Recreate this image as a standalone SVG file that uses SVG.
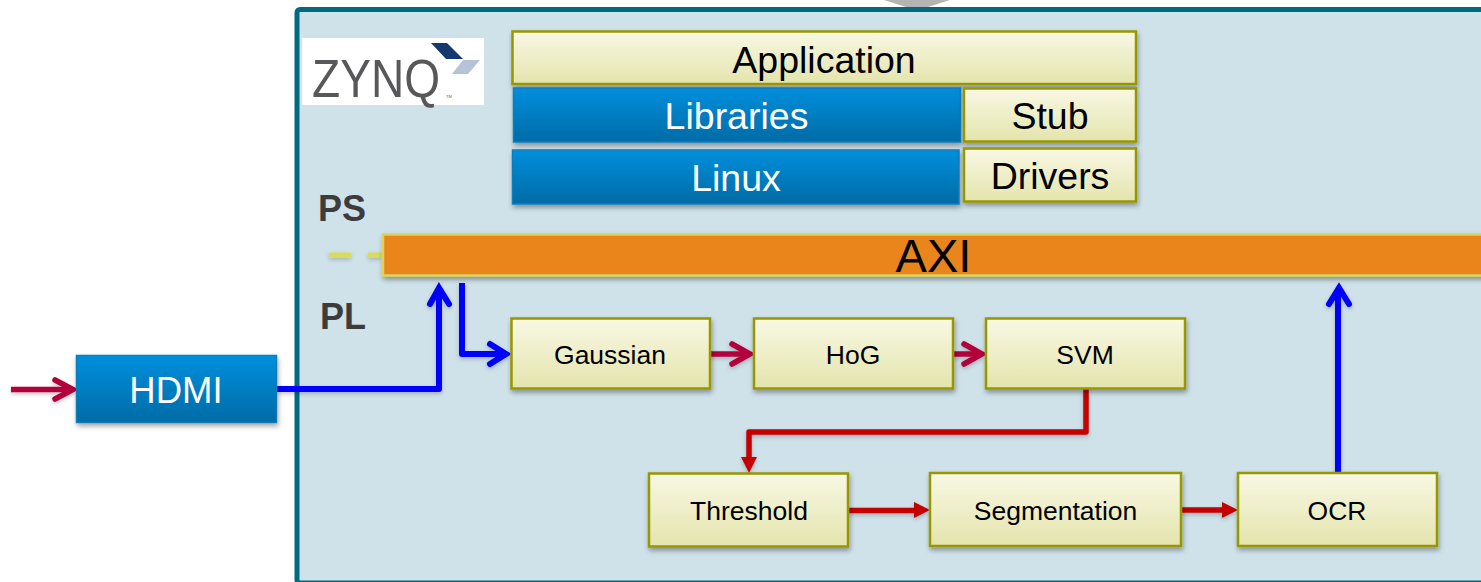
<svg xmlns="http://www.w3.org/2000/svg" width="1481" height="582" viewBox="0 0 1481 582">
<style>
text{font-family:"Liberation Sans",Arial,sans-serif;text-anchor:middle}
.y{fill:url(#gy);stroke:#979700;stroke-width:2.5}
.b{fill:url(#gb);stroke:#0b7dbd;stroke-width:1.5}
.sh{filter:url(#ds)}
.k{fill:#000}
.w{fill:#fff}
.lab{fill:#3c3c3c;font-weight:bold;font-size:36px}
.c{fill:none;stroke-linejoin:round;stroke-linecap:butt}
.blue{stroke:#0000ff;stroke-width:6}
.crim{stroke:#b3063c;stroke-width:5.5}
.red{stroke:#c40000;stroke-width:5.5}
.open{fill:none;stroke-linecap:round;stroke-linejoin:miter}
</style>
<defs>
<linearGradient id="gy" x1="0" y1="0" x2="0" y2="1"><stop offset="0" stop-color="#f8f8e4"/><stop offset="1" stop-color="#e4e4ad"/></linearGradient>
<linearGradient id="gb" x1="0" y1="0" x2="0" y2="1"><stop offset="0" stop-color="#008fdc"/><stop offset="1" stop-color="#006ba6"/></linearGradient>
<filter id="ds" x="-10%" y="-20%" width="120%" height="150%"><feDropShadow dx="1" dy="3" stdDeviation="2.5" flood-color="#000" flood-opacity=".35"/></filter>
<filter id="lsh" x="-10%" y="-10%" width="120%" height="120%"><feDropShadow dx="0" dy="2" stdDeviation="2" flood-color="#000" flood-opacity=".22"/></filter>
</defs>
<polygon id="top-arrow" points="884,0 950,0 928,7 906,7" fill="#b4b4b4"/>
<rect id="zynq-frame" x="297" y="9.500" width="1190" height="573.500" rx="3" fill="#cfe1e9" stroke="#006a80" stroke-width="5"/>
<g id="zynq-logo">
<rect x="302" y="38" width="182" height="67" fill="#fff"/>
<polygon points="431,43 447,43 463,59 446,59" fill="#15386f"/>
<polygon points="463,60 480,60 468,74 452,74" fill="#b6c2d8"/>
<text x="376" y="97" font-size="53" fill="#58585a" textLength="128" lengthAdjust="spacingAndGlyphs">ZYNQ</text>
<text x="449" y="98" font-size="4" fill="#58585a">TM</text>
</g>
<g id="connectors">
<g filter="url(#lsh)">
<path class="c" d="M329 255H382" stroke="#d9dc58" stroke-width="5" stroke-dasharray="22 17"/>
<path class="c blue" d="M277 389H439V290"/>
<path class="open" stroke="#0000ff" stroke-width="6" d="M430 304 439 288 449 304"/>
<path class="c blue" d="M462 283V354H505"/>
<path class="open" stroke="#0000ff" stroke-width="6" d="M490 344 506 354 490 364"/>
<path class="c crim" d="M11 389.500H72"/>
<path class="open" stroke="#b3063c" stroke-width="5.500" d="M55 380 73 389.500 55 399"/>
<path class="c crim" d="M710 354H749"/>
<path class="open" stroke="#b3063c" stroke-width="5.500" d="M732 344 750 354 732 364"/>
<path class="c crim" d="M953 354H981"/>
<path class="open" stroke="#b3063c" stroke-width="5.500" d="M964 344 982 354 964 364"/>
<path class="c blue" d="M1338 473V290"/>
<path class="open" stroke="#0000ff" stroke-width="6" d="M1329 304 1339 288 1349 304"/>
<path class="c red" d="M1086 389V432H749V457"/>
<path d="M741 457H757L749 473Z" fill="#c40000"/>
<path class="c red" d="M848 510.500H915"/>
<path d="M914 502 930 510 914 518Z" fill="#c40000"/>
<path class="c red" d="M1181 510H1222"/>
<path d="M1222 502 1238 510 1222 518Z" fill="#c40000"/>
</g>
</g>
<g id="app"><rect class="y sh" x="512.500" y="31.500" width="623.500" height="52.500"/><text class="k" x="824" y="72.500" font-size="37.500">Application</text></g>
<g id="libraries"><rect class="b sh" x="513.500" y="88" width="447" height="54"/><text class="w" x="736.500" y="129" font-size="37.500">Libraries</text></g>
<g id="stub"><rect class="y sh" x="964" y="88.500" width="172" height="53"/><text class="k" x="1050" y="129" font-size="37.500">Stub</text></g>
<g id="linux"><rect class="b sh" x="512.500" y="150" width="446.500" height="54"/><text class="w" x="736" y="191" font-size="37.500">Linux</text></g>
<g id="drivers"><rect class="y sh" x="964" y="148.500" width="172" height="53"/><text class="k" x="1050" y="188.500" font-size="37.500">Drivers</text></g>
<g id="ps"><text class="lab" x="342" y="221">PS</text></g>
<g id="pl"><text class="lab" x="343" y="329">PL</text></g>
<g id="axi"><rect class="sh" x="383" y="234.500" width="1110" height="41" fill="#ea851b" stroke="#d9d45a" stroke-width="2.500"/><text class="k" x="933.500" y="272" font-size="47">AXI</text></g>
<g id="hdmi"><rect class="b sh" x="76.500" y="355.500" width="200" height="67"/><text class="w" x="176" y="403" font-size="36.500">HDMI</text></g>
<g id="gaussian"><rect class="y sh" x="511.500" y="318.500" width="198.500" height="70"/><text class="k" x="610" y="364" font-size="26.500">Gaussian</text></g>
<g id="hog"><rect class="y sh" x="754" y="318.500" width="199" height="70"/><text class="k" x="853" y="364" font-size="26.500">HoG</text></g>
<g id="svm"><rect class="y sh" x="986" y="318.500" width="199" height="70"/><text class="k" x="1085" y="364" font-size="26.500">SVM</text></g>
<g id="threshold"><rect class="y sh" x="649" y="473.500" width="199" height="73"/><text class="k" x="749" y="520" font-size="26.500">Threshold</text></g>
<g id="segmentation"><rect class="y sh" x="930" y="473" width="251" height="73"/><text class="k" x="1055.500" y="520" font-size="26.500">Segmentation</text></g>
<g id="ocr"><rect class="y sh" x="1238" y="473" width="199" height="73"/><text class="k" x="1337" y="520" font-size="26.500">OCR</text></g>
</svg>
